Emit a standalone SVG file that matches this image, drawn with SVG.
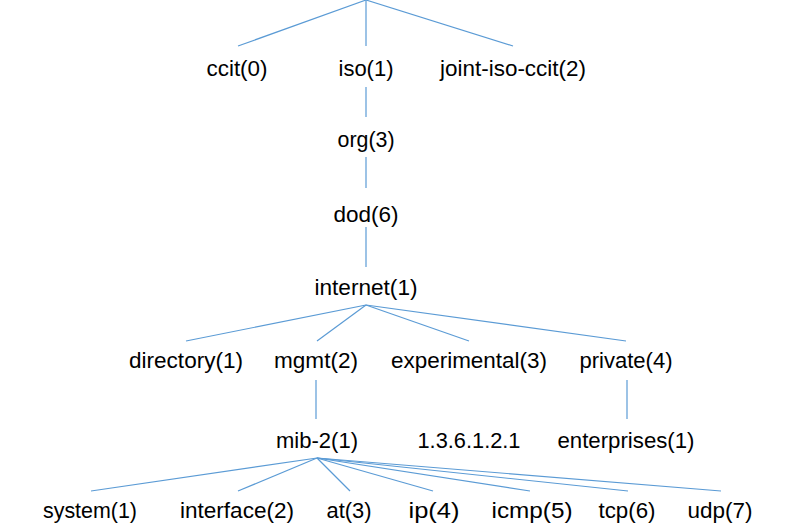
<svg xmlns="http://www.w3.org/2000/svg" width="809" height="531" viewBox="0 0 809 531">
<style>
.c line{stroke:#5B9BD5;stroke-width:1.2;fill:none}
text{font-family:"Liberation Sans",Arial,sans-serif;font-size:22px;fill:#000;text-anchor:middle}
</style>
<rect width="809" height="531" fill="#fff"/>
<g id="connectors" class="c">
<line x1="366" y1="0" x2="238" y2="46"/>
<line x1="366" y1="0" x2="366" y2="46"/>
<line x1="366" y1="0" x2="513" y2="46"/>
<line x1="366" y1="87" x2="366" y2="117"/>
<line x1="366" y1="157" x2="366" y2="188"/>
<line x1="366" y1="227" x2="366" y2="267"/>
<line x1="366" y1="305" x2="186" y2="341"/>
<line x1="366" y1="305" x2="317" y2="341"/>
<line x1="366" y1="305" x2="469" y2="341"/>
<line x1="366" y1="305" x2="626" y2="341"/>
<line x1="316" y1="380" x2="316" y2="419"/>
<line x1="627" y1="380" x2="627" y2="419"/>
<line x1="317" y1="458" x2="91" y2="491"/>
<line x1="317" y1="458" x2="238" y2="491"/>
<line x1="317" y1="458" x2="350" y2="491"/>
<line x1="317" y1="458" x2="433" y2="491"/>
<line x1="317" y1="458" x2="530" y2="491"/>
<line x1="317" y1="458" x2="628" y2="491"/>
<line x1="317" y1="458" x2="721" y2="491"/>
</g>
<g id="ccit"><text x="237" y="76" textLength="61" lengthAdjust="spacingAndGlyphs">ccit(0)</text></g>
<g id="iso"><text x="366" y="76" textLength="55" lengthAdjust="spacingAndGlyphs">iso(1)</text></g>
<g id="joint-iso-ccit"><text x="513" y="76" textLength="146" lengthAdjust="spacingAndGlyphs">joint-iso-ccit(2)</text></g>
<g id="org"><text x="366" y="147" textLength="57" lengthAdjust="spacingAndGlyphs">org(3)</text></g>
<g id="dod"><text x="366" y="222" textLength="65" lengthAdjust="spacingAndGlyphs">dod(6)</text></g>
<g id="internet"><text x="366" y="295" textLength="103" lengthAdjust="spacingAndGlyphs">internet(1)</text></g>
<g id="directory"><text x="186" y="368" textLength="114" lengthAdjust="spacingAndGlyphs">directory(1)</text></g>
<g id="mgmt"><text x="316" y="368" textLength="84" lengthAdjust="spacingAndGlyphs">mgmt(2)</text></g>
<g id="experimental"><text x="469" y="368" textLength="156" lengthAdjust="spacingAndGlyphs">experimental(3)</text></g>
<g id="private"><text x="626" y="368" textLength="93" lengthAdjust="spacingAndGlyphs">private(4)</text></g>
<g id="mib-2"><text x="317" y="448" textLength="82" lengthAdjust="spacingAndGlyphs">mib-2(1)</text></g>
<g id="oid"><text x="469" y="448" textLength="103" lengthAdjust="spacingAndGlyphs">1.3.6.1.2.1</text></g>
<g id="enterprises"><text x="626" y="448" textLength="137" lengthAdjust="spacingAndGlyphs">enterprises(1)</text></g>
<g id="system"><text x="90" y="518" textLength="94" lengthAdjust="spacingAndGlyphs">system(1)</text></g>
<g id="interface"><text x="237" y="518" textLength="114" lengthAdjust="spacingAndGlyphs">interface(2)</text></g>
<g id="at"><text x="349" y="518" textLength="45" lengthAdjust="spacingAndGlyphs">at(3)</text></g>
<g id="ip"><text x="434" y="518" textLength="51" lengthAdjust="spacingAndGlyphs">ip(4)</text></g>
<g id="icmp"><text x="532" y="518" textLength="81" lengthAdjust="spacingAndGlyphs">icmp(5)</text></g>
<g id="tcp"><text x="627" y="518" textLength="57" lengthAdjust="spacingAndGlyphs">tcp(6)</text></g>
<g id="udp"><text x="720" y="518" textLength="65" lengthAdjust="spacingAndGlyphs">udp(7)</text></g>
</svg>
